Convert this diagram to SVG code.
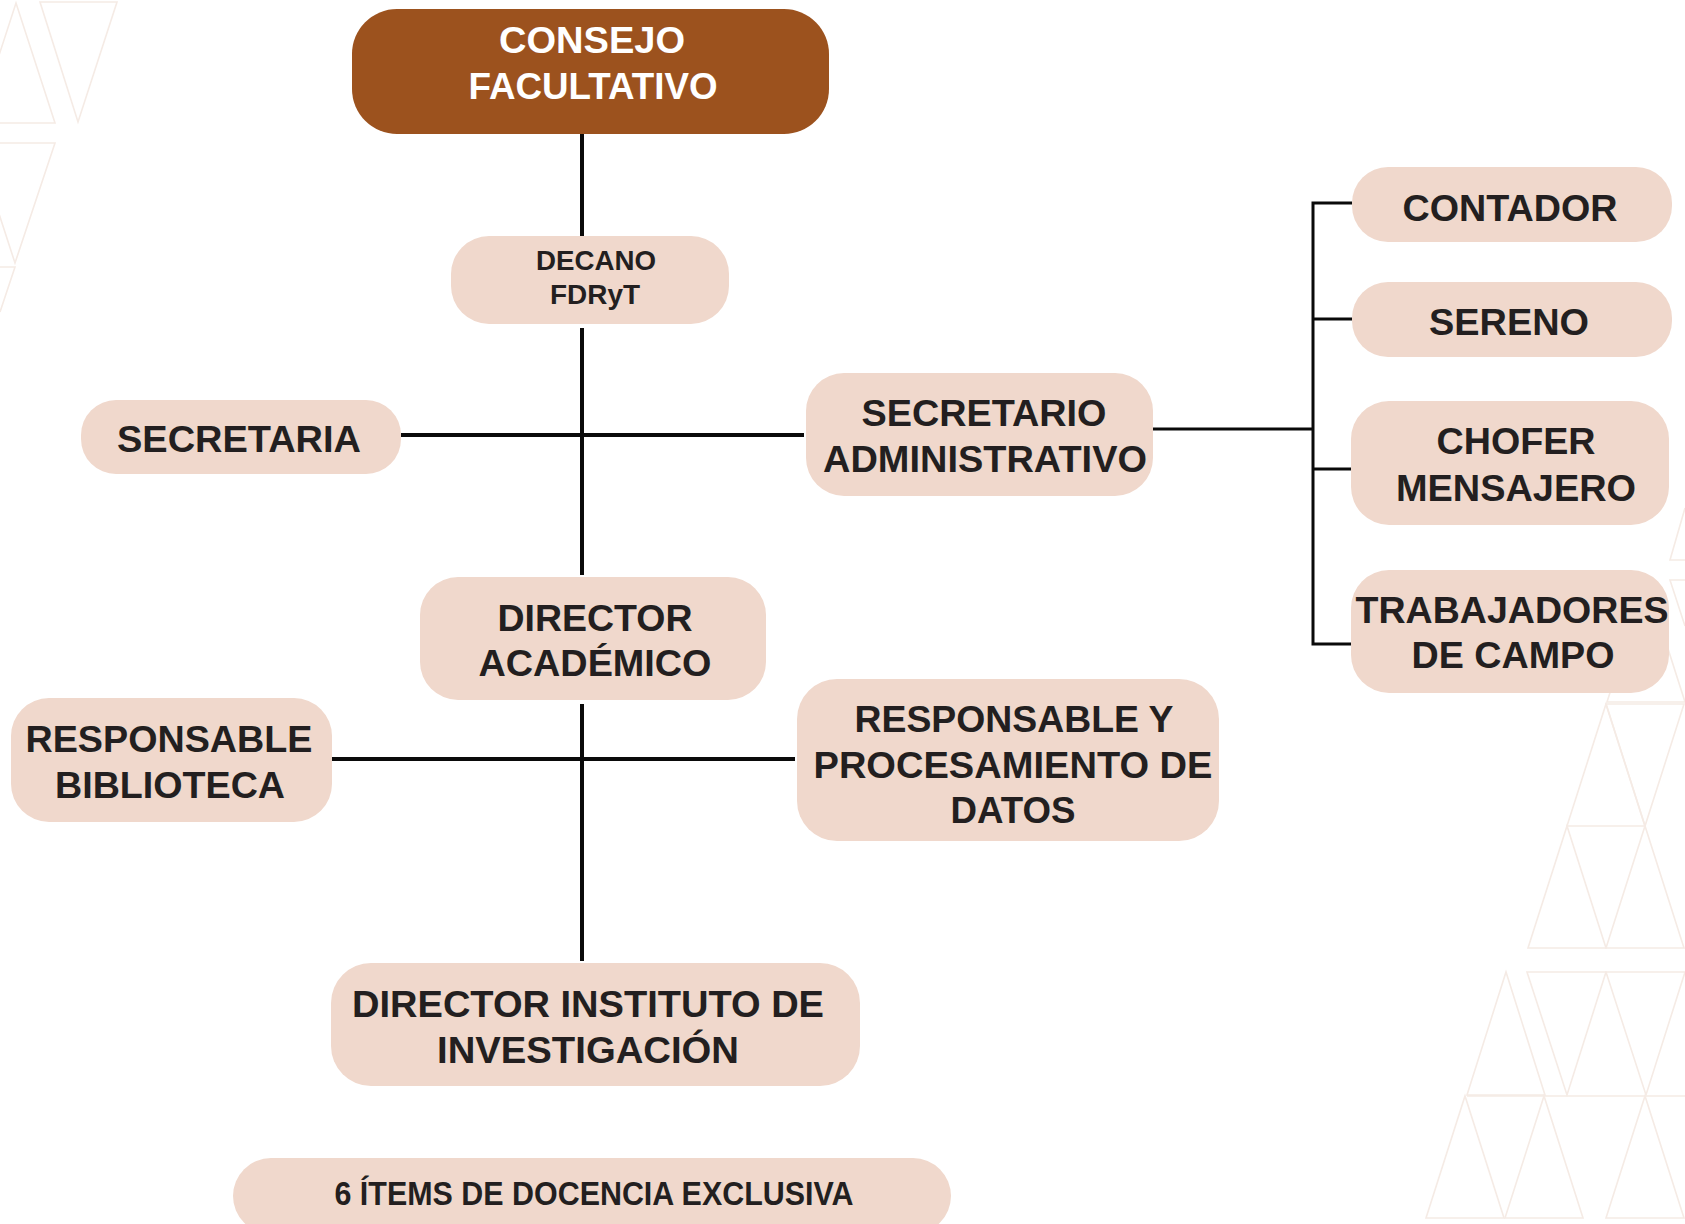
<svg xmlns="http://www.w3.org/2000/svg" width="1685" height="1224" viewBox="0 0 1685 1224">
<style>
.bg{fill:none;stroke:#f5ebe5;stroke-width:1.6}
.box{fill:#f0d8cc}
.top{fill:#9c521e}
.t{font-family:"Liberation Sans",Arial,sans-serif;font-weight:bold;fill:#231f20;text-anchor:middle}
.tw{font-family:"Liberation Sans",Arial,sans-serif;font-weight:bold;fill:#ffffff;text-anchor:middle}
.c{stroke:#0a0a0a;stroke-width:4;fill:none}
.cs{stroke:#0a0a0a;stroke-width:3;fill:none}
</style>
<rect width="1685" height="1224" fill="#ffffff"/>
<g id="background">
<polygon class="bg" points="40,2 117,2 78,122"/>
<polygon class="bg" points="-23,123 16,3 55,123"/>
<polygon class="bg" points="-24,143 55,143 15,263"/>
<polyline class="bg" points="0,267 15,267 0,312"/>
<polyline class="bg" points="1685,508 1670,560 1685,560"/>
<polyline class="bg" points="1685,580 1670,580 1685,626"/>
<polygon class="bg" points="1607,702 1646,580 1685,702"/>
<polygon class="bg" points="1567,826 1606,704 1645,826"/>
<polygon class="bg" points="1606,704 1684,704 1645,826"/>
<polygon class="bg" points="1528,948 1567,826 1606,948"/>
<polygon class="bg" points="1606,948 1645,826 1684,948"/>
<polygon class="bg" points="1467,1095 1506,972 1545,1095"/>
<polygon class="bg" points="1527,972 1606,972 1567,1095"/>
<polygon class="bg" points="1606,972 1685,972 1646,1095"/>
<polygon class="bg" points="1426,1218 1465,1096 1504,1218"/>
<polygon class="bg" points="1505,1218 1544,1096 1583,1218"/>
<polygon class="bg" points="1606,1218 1645,1096 1684,1218"/>
<line class="bg" x1="1467" y1="1096" x2="1685" y2="1096"/>
</g>
<g id="connectors">
<line class="c" x1="582" y1="134" x2="582" y2="236"/>
<line class="c" x1="582" y1="328" x2="582" y2="575"/>
<line class="c" x1="401" y1="435" x2="804" y2="435"/>
<line class="c" x1="582" y1="704" x2="582" y2="961"/>
<line class="c" x1="332" y1="759" x2="795" y2="759"/>
<line class="cs" x1="1153" y1="429" x2="1313" y2="429"/>
<polyline class="cs" points="1352,203 1313,203 1313,644 1352,644"/>
<line class="cs" x1="1313" y1="319" x2="1352" y2="319"/>
<line class="cs" x1="1313" y1="469" x2="1352" y2="469"/>
</g>
<g id="consejo">
<rect class="top" x="352" y="9" width="477" height="125" rx="45"/>
<text class="tw" x="592" y="53" font-size="37" textLength="186" lengthAdjust="spacingAndGlyphs">CONSEJO</text>
<text class="tw" x="593" y="99" font-size="37" textLength="249" lengthAdjust="spacingAndGlyphs">FACULTATIVO</text>
</g>
<g id="decano">
<rect class="box" x="451" y="236" width="278" height="88" rx="38"/>
<text class="t" x="596" y="270" font-size="28" textLength="120" lengthAdjust="spacingAndGlyphs">DECANO</text>
<text class="t" x="595" y="304" font-size="28" textLength="90" lengthAdjust="spacingAndGlyphs">FDRyT</text>
</g>
<g id="secretaria">
<rect class="box" x="81" y="400" width="320" height="74" rx="35"/>
<text class="t" x="239" y="452" font-size="37" textLength="244" lengthAdjust="spacingAndGlyphs">SECRETARIA</text>
</g>
<g id="secretario-administrativo">
<rect class="box" x="806" y="373" width="347" height="123" rx="38"/>
<text class="t" x="984" y="426" font-size="37" textLength="245" lengthAdjust="spacingAndGlyphs">SECRETARIO</text>
<text class="t" x="985" y="472" font-size="37" textLength="324" lengthAdjust="spacingAndGlyphs">ADMINISTRATIVO</text>
</g>
<g id="contador">
<rect class="box" x="1352" y="167" width="320" height="75" rx="36"/>
<text class="t" x="1510" y="221" font-size="37" textLength="215" lengthAdjust="spacingAndGlyphs">CONTADOR</text>
</g>
<g id="sereno">
<rect class="box" x="1352" y="282" width="320" height="75" rx="36"/>
<text class="t" x="1509" y="335" font-size="37" textLength="160" lengthAdjust="spacingAndGlyphs">SERENO</text>
</g>
<g id="chofer-mensajero">
<rect class="box" x="1351" y="401" width="318" height="124" rx="38"/>
<text class="t" x="1516" y="454" font-size="37" textLength="159" lengthAdjust="spacingAndGlyphs">CHOFER</text>
<text class="t" x="1516" y="501" font-size="37" textLength="240" lengthAdjust="spacingAndGlyphs">MENSAJERO</text>
</g>
<g id="trabajadores-de-campo">
<rect class="box" x="1351" y="570" width="318" height="123" rx="38"/>
<text class="t" x="1512" y="623" font-size="37" textLength="313" lengthAdjust="spacingAndGlyphs">TRABAJADORES</text>
<text class="t" x="1513" y="668" font-size="37" textLength="203" lengthAdjust="spacingAndGlyphs">DE CAMPO</text>
</g>
<g id="director-academico">
<rect class="box" x="420" y="577" width="346" height="123" rx="38"/>
<text class="t" x="595" y="631" font-size="37" textLength="195" lengthAdjust="spacingAndGlyphs">DIRECTOR</text>
<text class="t" x="595" y="676" font-size="37" textLength="233" lengthAdjust="spacingAndGlyphs">ACADÉMICO</text>
</g>
<g id="responsable-biblioteca">
<rect class="box" x="11" y="698" width="321" height="124" rx="38"/>
<text class="t" x="169" y="752" font-size="37" textLength="287" lengthAdjust="spacingAndGlyphs">RESPONSABLE</text>
<text class="t" x="170" y="798" font-size="37" textLength="230" lengthAdjust="spacingAndGlyphs">BIBLIOTECA</text>
</g>
<g id="responsable-procesamiento">
<rect class="box" x="797" y="679" width="422" height="162" rx="40"/>
<text class="t" x="1014" y="732" font-size="37" textLength="319" lengthAdjust="spacingAndGlyphs">RESPONSABLE Y</text>
<text class="t" x="1013" y="778" font-size="37" textLength="399" lengthAdjust="spacingAndGlyphs">PROCESAMIENTO DE</text>
<text class="t" x="1013" y="823" font-size="37" textLength="125" lengthAdjust="spacingAndGlyphs">DATOS</text>
</g>
<g id="director-instituto">
<rect class="box" x="331" y="963" width="529" height="123" rx="40"/>
<text class="t" x="588" y="1017" font-size="37" textLength="472" lengthAdjust="spacingAndGlyphs">DIRECTOR INSTITUTO DE</text>
<text class="t" x="588" y="1063" font-size="37" textLength="302" lengthAdjust="spacingAndGlyphs">INVESTIGACIÓN</text>
</g>
<g id="items-docencia">
<rect class="box" x="233" y="1158" width="718" height="76" rx="38"/>
<text class="t" x="594" y="1205" font-size="34" textLength="519" lengthAdjust="spacingAndGlyphs">6 ÍTEMS DE DOCENCIA EXCLUSIVA</text>
</g>
</svg>
